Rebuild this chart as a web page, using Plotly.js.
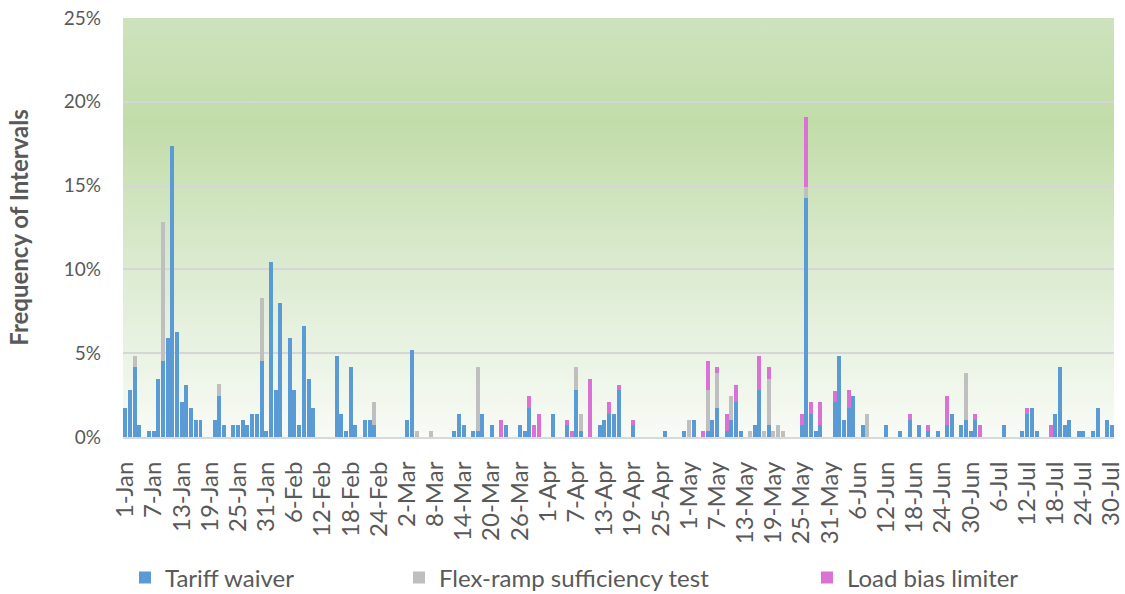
<!DOCTYPE html>
<html>
<head>
<meta charset="utf-8">
<script src="https://cdn.plot.ly/plotly-3.0.1.min.js"></script>
<style>html,body{margin:0;padding:0;background:#fff;}#chart{width:1125px;height:594px;}</style>
</head>
<body>
<div id="chart"></div>
<script>
// Category labels (one per day, 1-Jan .. 30-Jul)
const monthNames = ['Jan','Feb','Mar','Apr','May','Jun','Jul'];
const monthDays  = [31, 28, 31, 30, 31, 30, 30];
const days = [];
monthNames.forEach((m, i) => { for (let d = 1; d <= monthDays[i]; d++) days.push(d + '-' + m); });

const tickLabels = ['1-Jan','7-Jan','13-Jan','19-Jan','25-Jan','31-Jan','6-Feb','12-Feb','18-Feb','24-Feb',
  '2-Mar','8-Mar','14-Mar','20-Mar','26-Mar','1-Apr','7-Apr','13-Apr','19-Apr','25-Apr',
  '1-May','7-May','13-May','19-May','25-May','31-May','6-Jun','12-Jun','18-Jun','24-Jun','30-Jun',
  '6-Jul','12-Jul','18-Jul','24-Jul','30-Jul'];
const yTickVals = [0, 5, 10, 15, 20, 25];
const yTickText = ['0%', '5%', '10%', '15%', '20%', '25%'];

// Tariff waiver (% of intervals)
const tariffDates = ['1-Jan','2-Jan','3-Jan','4-Jan','6-Jan','7-Jan','8-Jan','9-Jan','10-Jan','11-Jan','12-Jan','13-Jan','14-Jan','15-Jan','16-Jan','17-Jan','20-Jan','21-Jan','22-Jan','24-Jan','25-Jan','26-Jan','27-Jan','28-Jan','29-Jan','30-Jan','31-Jan',
  '1-Feb','2-Feb','3-Feb','5-Feb','6-Feb','7-Feb','8-Feb','9-Feb','10-Feb','15-Feb','16-Feb','17-Feb','18-Feb','19-Feb','21-Feb','22-Feb','23-Feb',
  '2-Mar','3-Mar','12-Mar','13-Mar','14-Mar','16-Mar','17-Mar','18-Mar','20-Mar','23-Mar','26-Mar','27-Mar','28-Mar',
  '2-Apr','5-Apr','7-Apr','8-Apr','12-Apr','13-Apr','14-Apr','15-Apr','16-Apr','19-Apr','26-Apr','30-Apr',
  '2-May','5-May','6-May','7-May','9-May','10-May','11-May','12-May','15-May','16-May','18-May','25-May','26-May','27-May','28-May','29-May',
  '1-Jun','2-Jun','3-Jun','4-Jun','5-Jun','7-Jun','12-Jun','15-Jun','17-Jun','19-Jun','21-Jun','23-Jun','25-Jun','26-Jun','28-Jun','29-Jun','30-Jun',
  '1-Jul','7-Jul','11-Jul','12-Jul','13-Jul','14-Jul','18-Jul','19-Jul','20-Jul','21-Jul','23-Jul','24-Jul','26-Jul','27-Jul','29-Jul','30-Jul'];
const tariffVals = [1.74,2.78,4.17,0.69,0.35,0.35,3.47,4.51,5.90,17.36,6.25,2.08,3.13,1.74,1.04,1.04,1.04,2.43,0.69,0.69,0.69,1.04,0.69,1.39,1.39,4.51,0.35,
  10.42,2.78,7.99,5.90,2.78,0.69,6.60,3.47,1.74,4.86,1.39,0.35,4.17,0.69,1.04,1.04,0.69,
  1.04,5.21,0.35,1.39,0.69,0.35,0.35,1.39,0.69,0.69,0.69,0.35,1.74,
  1.39,0.69,2.78,0.35,0.69,1.04,1.39,1.39,2.78,0.69,0.35,0.35,
  1.04,0.35,1.04,1.74,0.35,1.04,2.08,0.35,0.69,2.78,0.69,0.69,14.24,1.39,0.35,0.69,
  2.08,4.86,1.04,1.74,2.43,0.69,0.69,0.35,1.04,0.69,0.35,0.35,0.69,1.39,0.69,1.04,0.35,
  1.04,0.69,0.35,1.39,1.74,0.35,1.39,4.17,0.69,1.04,0.35,0.35,0.35,1.74,1.04,0.69];

// Flex-ramp sufficiency test
const flexDates = ['3-Jan','9-Jan','21-Jan','30-Jan','23-Feb','4-Mar','7-Mar','17-Mar','7-Apr','8-Apr',
  '1-May','5-May','7-May','10-May','14-May','17-May','18-May','19-May','20-May','21-May','26-May','8-Jun','29-Jun'];
const flexVals = [0.65,8.31,0.76,3.78,1.39,0.35,0.35,3.84,1.39,1.04,
  1.04,2.43,2.08,1.39,0.35,0.35,2.78,0.35,0.69,0.35,0.69,1.39,2.78];

// Load bias limiter
const loadDates = ['22-Mar','28-Mar','29-Mar','30-Mar','5-Apr','6-Apr','10-Apr','14-Apr','16-Apr','19-Apr',
  '4-May','5-May','7-May','9-May','11-May','16-May','18-May','25-May','26-May','27-May','29-May',
  '1-Jun','4-Jun','17-Jun','21-Jun','25-Jun','1-Jul','2-Jul','12-Jul','17-Jul'];
const loadVals = [1.04,0.69,0.69,1.39,0.35,0.35,3.47,0.69,0.35,0.35,
  0.35,1.74,0.35,1.04,1.04,2.08,0.69,0.69,4.17,0.69,1.39,
  0.69,1.04,0.35,0.35,1.74,0.35,0.69,0.35,0.69];

const FONT = 'Lato, "Open Sans", sans-serif';
const TXT = '#595959';

const traces = [
  {type:'bar', name:'Tariff waiver', x:tariffDates, y:tariffVals, marker:{color:'#5B9BD5'}, legend:'legend'},
  {type:'bar', name:'Flex-ramp sufficiency test', x:flexDates, y:flexVals, marker:{color:'#BFBFBF'}, legend:'legend2'},
  {type:'bar', name:'Load bias limiter', x:loadDates, y:loadVals, marker:{color:'#DA72D6'}, legend:'legend3'}
];

const svg = '<svg xmlns="http://www.w3.org/2000/svg" width="100" height="100" preserveAspectRatio="none" viewBox="0 0 100 100">' +
  '<defs><linearGradient id="g" x1="0" y1="0" x2="0" y2="1">' +
  '<stop offset="0" stop-color="#cde3bd"/><stop offset="0.25" stop-color="#c2dca9"/>' +
  '<stop offset="0.6" stop-color="#dcebd1"/><stop offset="1" stop-color="#f8fbf6"/></linearGradient></defs>' +
  '<rect width="100" height="100" fill="url(#g)"/></svg>';

function legendAt(px) {
  return {xref:'container', yref:'container', x:px/1125, y:(594-578)/594, xanchor:'left', yanchor:'middle',
    orientation:'h', bgcolor:'rgba(0,0,0,0)', font:{family:FONT, size:24, color:TXT}};
}

const layout = {
  width:1125, height:594,
  margin:{l:123, r:11, t:18, b:157},
  paper_bgcolor:'#ffffff', plot_bgcolor:'rgba(0,0,0,0)',
  barmode:'stack', bargap:0.15,
  font:{family:FONT, color:TXT},
  images:[{source:'data:image/svg+xml;charset=utf-8,' + encodeURIComponent(svg),
    xref:'paper', yref:'paper', x:0, y:1, sizex:1, sizey:1, sizing:'stretch', layer:'below', xanchor:'left', yanchor:'top'}],
  xaxis:{type:'category', categoryorder:'array', categoryarray:days, range:[-0.5, days.length-0.5],
    tickmode:'array', tickvals:tickLabels, ticktext:tickLabels, tickangle:-90,
    tickfont:{family:FONT, size:24, color:TXT}, ticks:'', showgrid:false,
    showline:true, linecolor:'#d9d9d9', linewidth:2, ticklabelstandoff:13, fixedrange:true},
  yaxis:{range:[0,25], tickmode:'array', tickvals:yTickVals, ticktext:yTickText, tickfont:{family:FONT, size:19, color:TXT},
    showgrid:true, gridcolor:'#d6d6d6', gridwidth:2, zeroline:false, ticks:'', ticklabelstandoff:21,
    title:{text:'<b>Frequency of Intervals</b>', font:{family:FONT, size:24, color:TXT}, standoff:28}},
  showlegend:true,
  legend:legendAt(125),
  legend2:legendAt(399),
  legend3:legendAt(807)
};

Plotly.newPlot('chart', traces, layout, {staticPlot:true, displayModeBar:false});
</script>
</body>
</html>
